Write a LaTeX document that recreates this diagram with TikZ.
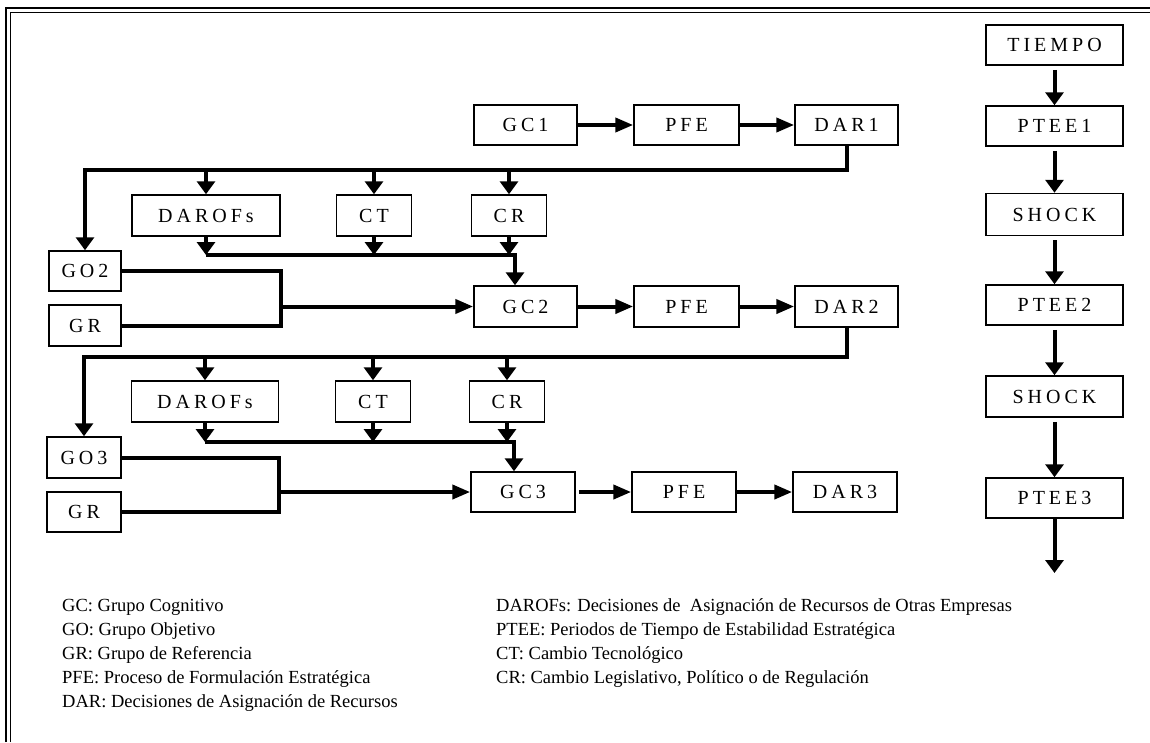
\documentclass[tikz,border=0pt]{standalone}
\usepackage{fontspec}
\setmainfont{Liberation Serif}
\newfontfamily\boxfont[LetterSpace=20]{Liberation Serif}
\usetikzlibrary{arrows.meta}
\begin{document}
\begin{tikzpicture}[x=1pt,y=-1pt,
  box/.style={draw, line width=1.5pt, inner sep=0pt, minimum height=40pt,
    font=\boxfont\fontsize{20}{20}\selectfont},
  conn/.style={line width=4pt},
  arr/.style={conn, -{Triangle[length=13pt,width=18pt]}},
  harr/.style={conn, -{Triangle[length=18pt,width=14pt]}},
  legend/.style={anchor=base west, inner sep=0pt, font=\fontsize{18.5}{18.5}\selectfont}]
\useasboundingbox (0,0) rectangle (1150,742);
% frame
\draw[line width=2.2pt] (6,742) -- (6,8) -- (1150,8);
\draw[line width=1pt] (10,742) -- (10,12) -- (1150,12);

% ---- row 1
\node[box, minimum width=103pt] (GC1) at (525.5,125) {GC1};
\node[box, minimum width=105pt] (PFE1) at (686.5,125) {PFE};
\node[box, minimum width=103pt] (DAR1) at (846.5,125) {DAR1};
\draw[harr] (GC1) -- (PFE1);
\draw[harr] (PFE1) -- (DAR1);

\node[box, minimum width=148pt, minimum height=41pt] (DO1) at (206,215.5) {DAROFs};
\node[box, minimum width=75pt, minimum height=41pt] (CT1) at (374,215.5) {CT};
\node[box, minimum width=75pt, minimum height=41pt] (CR1) at (509,215.5) {CR};

\node[box, minimum width=72pt] (GO2) at (85,271) {GO2};
\node[box, minimum width=72pt, minimum height=41pt] (GR1) at (85,325.5) {GR};

\node[box, minimum width=103pt, minimum height=41pt] (GC2) at (525.5,306.5) {GC2};
\node[box, minimum width=105pt, minimum height=41pt] (PFE2) at (686.5,306.5) {PFE};
\node[box, minimum width=103pt, minimum height=41pt] (DAR2) at (846.5,306.5) {DAR2};

\coordinate (b1) at (0,170);
\coordinate (c1) at (0,255);
\coordinate (m1) at (515,0);
\coordinate (j1) at (281,0);
\draw[arr] (DAR1.south) -- (DAR1.south |- b1) -| (GO2.north);
\draw[arr] (DO1.north |- b1) -- (DO1.north);
\draw[arr] (CT1.north |- b1) -- (CT1.north);
\draw[arr] (CR1.north |- b1) -- (CR1.north);
\draw[arr] (DO1.south) -- (DO1.south |- c1);
\draw[arr] (CT1.south) -- (CT1.south |- c1);
\draw[arr] (CR1.south) -- (CR1.south |- c1);
\draw[arr] (DO1.south |- c1) -| (m1 |- GC2.north);
\draw[conn] (GO2.east) -- (GO2.east -| j1) |- (GR1.east);
\draw[harr] (j1 |- GC2.west) -- (GC2.west);
\draw[harr] (GC2) -- (PFE2);
\draw[harr] (PFE2) -- (DAR2);

% ---- row 2
\node[box, minimum width=147pt, minimum height=41pt] (DO2) at (205,401.5) {DAROFs};
\node[box, minimum width=75pt, minimum height=41pt] (CT2) at (373,401.5) {CT};
\node[box, minimum width=75pt, minimum height=41pt] (CR2) at (507,401.5) {CR};

\node[box, minimum width=74pt, minimum height=41pt] (GO3) at (84,457.5) {GO3};
\node[box, minimum width=74pt] (GR2) at (84,512) {GR};

\node[box, minimum width=104pt] (GC3) at (523,492) {GC3};
\node[box, minimum width=104pt] (PFE3) at (684,492) {PFE};
\node[box, minimum width=104pt] (DAR3) at (845,492) {DAR3};

\coordinate (b2) at (0,357);
\coordinate (c2) at (0,442);
\coordinate (m2) at (514,0);
\coordinate (j2) at (279,0);
\draw[arr] (DAR2.south) -- (DAR2.south |- b2) -| (GO3.north);
\draw[arr] (DO2.north |- b2) -- (DO2.north);
\draw[arr] (CT2.north |- b2) -- (CT2.north);
\draw[arr] (CR2.north |- b2) -- (CR2.north);
\draw[arr] (DO2.south) -- (DO2.south |- c2);
\draw[arr] (CT2.south) -- (CT2.south |- c2);
\draw[arr] (CR2.south) -- (CR2.south |- c2);
\draw[arr] (DO2.south |- c2) -| (m2 |- GC3.north);
\draw[conn] (GO3.east) -- (GO3.east -| j2) |- (GR2.east);
\draw[harr] (j2 |- GC3.west) -- (GC3.west);
\draw[harr, shorten <=3pt] (GC3) -- (PFE3);
\draw[harr] (PFE3) -- (DAR3);

% ---- time column
\node[box, minimum width=137pt] (T0) at (1054.5,45) {TIEMPO};
\node[box, minimum width=137pt] (P1) at (1054.5,126) {PTEE1};
\node[box, minimum width=137pt, minimum height=42pt] (S1) at (1054.5,214.5) {SHOCK};
\node[box, minimum width=137pt] (P2) at (1054.5,305) {PTEE2};
\node[box, minimum width=137pt, minimum height=41pt] (S2) at (1054.5,396.5) {SHOCK};
\node[box, minimum width=137pt] (P3) at (1054.5,498) {PTEE3};
\coordinate (tend) at (1054.5,573);
\draw[arr, shorten <=4pt] (T0) -- (P1);
\draw[arr, shorten <=4pt] (P1) -- (S1);
\draw[arr, shorten <=4pt] (S1) -- (P2);
\draw[arr, shorten <=4pt] (P2) -- (S2);
\draw[arr, shorten <=4pt] (S2) -- (P3);
\draw[arr] (P3) -- (tend);

% ---- legend
\node[legend] (L1) at (62,611) {GC: Grupo Cognitivo};
\node[legend] (L2) at (62,635) {GO: Grupo Objetivo};
\node[legend] (L3) at (62,659) {GR: Grupo de Referencia};
\node[legend] (L4) at (62,683) {PFE: Proceso de Formulación Estratégica};
\node[legend] (L5) at (62,707) {DAR: Decisiones de Asignación de Recursos};
\node[legend] (R1) at (496,611) {DAROFs: Decisiones de\ \ Asignación de Recursos de Otras Empresas};
\node[legend] (R2) at (496,635) {PTEE: Periodos de Tiempo de Estabilidad Estratégica};
\node[legend] (R3) at (496,659) {CT: Cambio Tecnológico};
\node[legend] (R4) at (496,683) {CR: Cambio Legislativo, Político o de Regulación};
\end{tikzpicture}
\end{document}
